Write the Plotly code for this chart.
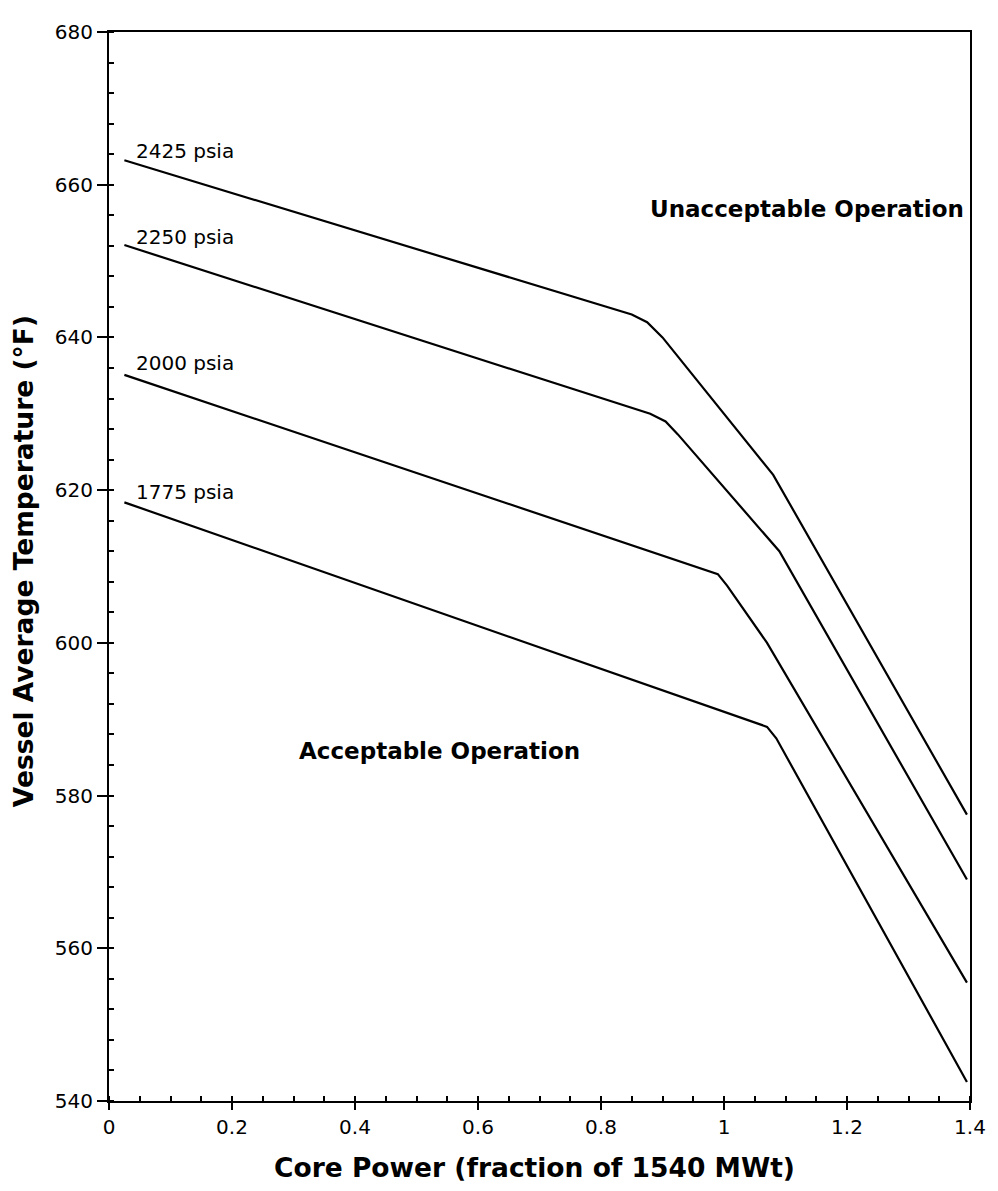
import plotly.graph_objects as go

# Core power (fraction of 1540 MWt) and vessel average temperature (°F)
x_2425 = [0.025, 0.85, 0.875, 0.90, 1.08, 1.395]
y_2425 = [663.2, 643.0, 642.0, 640.0, 622.0, 577.5]

x_2250 = [0.025, 0.88, 0.905, 0.925, 1.09, 1.395]
y_2250 = [652.1, 630.0, 629.0, 627.3, 612.0, 569.0]

x_2000 = [0.025, 0.97, 0.99, 1.005, 1.07, 1.395]
y_2000 = [635.1, 609.5, 609.0, 607.5, 600.0, 555.5]

x_1775 = [0.025, 1.05, 1.07, 1.085, 1.395]
y_1775 = [618.4, 589.5, 589.0, 587.5, 542.5]

series = [
    ("2425 psia", x_2425, y_2425),
    ("2250 psia", x_2250, y_2250),
    ("2000 psia", x_2000, y_2000),
    ("1775 psia", x_1775, y_1775),
]
label_y = [664.4, 653.1, 636.6, 619.7]

x_ticks = [0, 0.2, 0.4, 0.6, 0.8, 1.0, 1.2, 1.4]
x_tick_text = ["0", "0.2", "0.4", "0.6", "0.8", "1", "1.2", "1.4"]
y_ticks = [540, 560, 580, 600, 620, 640, 660, 680]

FONT = "DejaVu Sans"
X_RANGE = [0, 1.4]
Y_RANGE = [540, 680]

fig = go.Figure()
for name, xs, ys in series:
    fig.add_trace(go.Scatter(x=xs, y=ys, mode="lines", name=name,
                             line=dict(color="black", width=2.2), showlegend=False))
# helper trace so the overlay axes (inner halves of the crossing ticks) are drawn
fig.add_trace(go.Scatter(x=[None], y=[None], xaxis="x2", yaxis="y2",
                         mode="lines", showlegend=False, hoverinfo="skip"))

annotations = []
for (name, xs, ys), ly in zip(series, label_y):
    annotations.append(dict(x=0.041, y=ly, text=name, showarrow=False,
                            xanchor="left", yanchor="middle",
                            font=dict(family=FONT, size=20, color="black")))
annotations.append(dict(x=1.135, y=656.8, text="<b>Unacceptable Operation</b>",
                        showarrow=False, xanchor="center", yanchor="middle",
                        font=dict(family=FONT, size=23, color="black")))
annotations.append(dict(x=0.538, y=585.9, text="<b>Acceptable Operation</b>",
                        showarrow=False, xanchor="center", yanchor="middle",
                        font=dict(family=FONT, size=23, color="black")))
# axis titles
annotations.append(dict(xref="paper", yref="paper", x=0.494, y=0, yshift=-66,
                        text="<b>Core Power (fraction of 1540 MWt)</b>",
                        showarrow=False, xanchor="center", yanchor="middle",
                        font=dict(family=FONT, size=26.5, color="black")))
annotations.append(dict(xref="paper", yref="paper", x=0, y=0.505, xshift=-86,
                        text="<b>Vessel Average Temperature (°F)</b>", textangle=-90,
                        showarrow=False, xanchor="center", yanchor="middle",
                        font=dict(family=FONT, size=26.5, color="black")))

# the page body has an 8px margin, so the figure is 8px smaller and margins shifted
fig.update_layout(
    width=990, height=1183,
    margin=dict(l=101, r=16, t=18, b=90),
    paper_bgcolor="white", plot_bgcolor="white",
    annotations=annotations,
    xaxis=dict(range=X_RANGE, tickvals=x_ticks, ticktext=x_tick_text,
               showgrid=False, zeroline=False, showline=True, linecolor="black",
               linewidth=2, mirror=True, ticks="outside", ticklen=7,
               tickcolor="black", tickwidth=1.5, ticklabeloverflow="allow",
               minor=dict(dtick=0.05, ticks="inside", ticklen=5, tickcolor="black"),
               tickfont=dict(family=FONT, size=20, color="black")),
    yaxis=dict(range=Y_RANGE, tickvals=y_ticks,
               showgrid=False, zeroline=False, showline=True, linecolor="black",
               linewidth=2, mirror=True, ticks="outside", ticklen=10,
               tickcolor="black", tickwidth=1.5, ticklabeloverflow="allow",
               minor=dict(dtick=4, ticks="inside", ticklen=5, tickcolor="black"),
               tickfont=dict(family=FONT, size=20, color="black")),
    xaxis2=dict(range=X_RANGE, tickvals=x_ticks, overlaying="x", anchor="y2",
                side="bottom", showgrid=False, zeroline=False, showline=False,
                ticks="inside", ticklen=5, tickcolor="black", tickwidth=1.5,
                showticklabels=False),
    yaxis2=dict(range=Y_RANGE, tickvals=y_ticks, overlaying="y", anchor="x2",
                side="left", showgrid=False, zeroline=False, showline=False,
                ticks="inside", ticklen=4, tickcolor="black", tickwidth=1.5,
                showticklabels=False),
)

fig.write_html("out.html")
